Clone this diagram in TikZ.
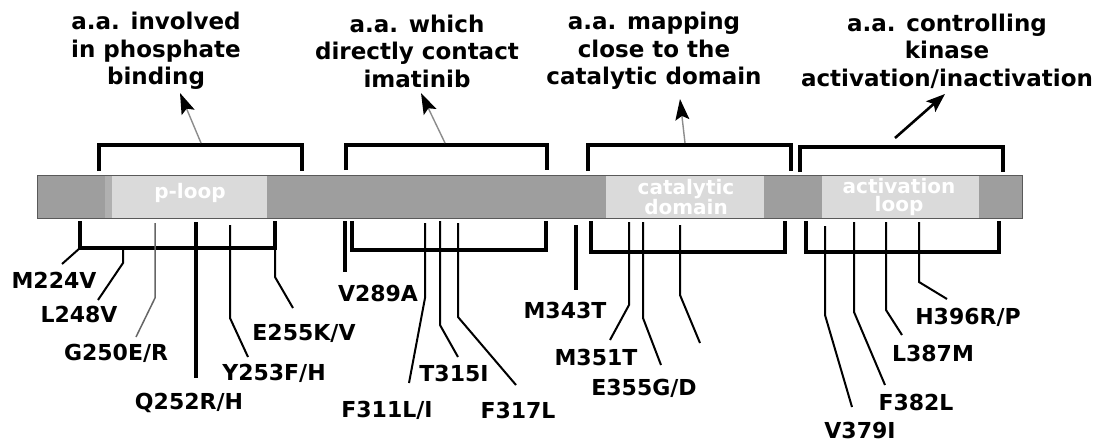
\documentclass[tikz,border=0pt]{standalone}
\usepackage{fontspec}
\setmainfont{DejaVu Sans}
\usetikzlibrary{arrows.meta}
\definecolor{bardark}{RGB}{158,158,158}
\definecolor{barlight}{RGB}{218,218,218}
\definecolor{barmid}{RGB}{176,176,176}
\definecolor{thinline}{RGB}{140,140,140}
\begin{document}
\begin{tikzpicture}[x=1pt,y=-1pt,
  toplab/.style={font=\bfseries\fontsize{23}{27.5}\selectfont,align=center,inner sep=0pt},
  mutlab/.style={font=\bfseries\fontsize{22}{26}\selectfont,inner sep=0pt},
  barlab/.style={font=\bfseries\fontsize{20}{18}\selectfont,text=white,align=center,inner sep=0pt},
  bracket/.style={line width=3.6pt,line join=miter,line cap=butt},
  lowbracket/.style={line width=3.2pt,line join=miter,line cap=butt},
  mut/.style={line width=2pt},
  thickmut/.style={line width=3.6pt},
  grayarrow/.style={draw=thinline,line width=1.4pt,-{Stealth[length=21pt,width=14pt,inset=4pt,color=black,fill=black]}},
  blackarrow/.style={draw=black,line width=2.6pt,-{Stealth[length=19pt,width=14pt,inset=4pt]}}
]
\useasboundingbox (0,0) rectangle (1104,444);
\fill[white] (0,0) rectangle (1104,444);

% bar
\fill[bardark] (37,175) rectangle (1022,218);
\fill[barmid] (105,175) rectangle (112,218);
\fill[barlight] (112,175) rectangle (267,218);
\fill[barlight] (606,175) rectangle (764,218);
\fill[barlight] (822,175) rectangle (979,218);
\draw[gray!70!black,line width=0.8pt] (37,175) rectangle (1022,218);
\node[barlab] (ploop) at (190,193) {p-loop};
\node[barlab] (catdom) at (686,197) {catalytic\\domain};
\node[barlab] (actloop) at (899,197) {activation\\loop};

% upper brackets
\draw[bracket] (99,171) -- (99,145) -- (302,145) -- (302,171);
\draw[bracket] (346,170) -- (346,145) -- (547,145) -- (547,170);
\draw[bracket] (588,171) -- (588,145) -- (791,145) -- (791,171);
\draw[bracket] (800,172) -- (800,147) -- (1003,147) -- (1003,172);

% top labels
\node[toplab] (lab1) at (156,51) {a.a. involved\\in phosphate\\binding};
\node[toplab] (lab2) at (417,51) {a.a. which\\directly contact\\imatinib};
\node[toplab] (lab3) at (654,51) {a.a. mapping\\close to the\\catalytic domain};
\node[toplab] (lab4) at (947,51) {a.a. controlling\\kinase\\activation/inactivation};

\coordinate (a1s) at (201,143); \coordinate (a1e) at (180,93);
\coordinate (a2s) at (445,143); \coordinate (a2e) at (421,93);
\coordinate (a3s) at (685,143); \coordinate (a3e) at (680,99);
\coordinate (a4s) at (895,138); \coordinate (a4e) at (945,94);
\draw[grayarrow] (a1s) -- (a1e);
\draw[grayarrow] (a2s) -- (a2e);
\draw[grayarrow] (a3s) -- (a3e);
\draw[blackarrow] (a4s) -- (a4e);

% lower brackets
\draw[lowbracket] (80,221) -- (80,248) -- (275,248) -- (275,221);
\draw[lowbracket] (352,221) -- (352,250) -- (546,250) -- (546,221);
\draw[lowbracket] (591,221) -- (591,252) -- (785,252) -- (785,221);
\draw[lowbracket] (806,221) -- (806,252) -- (999,252) -- (999,221);

% mutation lines
\draw[mut] (80,248) -- (62,264);
\draw[mut] (275,248) -- (275,277) -- (293,308);
\draw[mut] (123,248) -- (123,263) -- (98,300);
\draw[line width=1.5pt,draw=black!60] (155,223) -- (155,298) -- (136,337);
\draw[thickmut] (196,222) -- (196,378);
\draw[mut] (230,225) -- (230,318) -- (248,357);
\draw[thickmut] (345,221) -- (345,272);
\draw[mut] (425,223) -- (425,298) -- (409,383);
\draw[mut] (440,221) -- (440,325) -- (458,357);
\draw[mut] (458,223) -- (458,317) -- (516,385);
\draw[thickmut] (576,225) -- (576,290);
\draw[mut] (629,222) -- (629,305) -- (610,340);
\draw[mut] (643,222) -- (643,318) -- (661,365);
\draw[mut] (680,225) -- (680,295) -- (700,343);
\draw[mut] (825,226) -- (825,315) -- (852,407);
\draw[mut] (854,222) -- (854,312) -- (885,385);
\draw[mut] (886,222) -- (886,310) -- (902,335);
\draw[mut] (919,222) -- (919,282) -- (947,299);

% mutation labels
\node[mutlab] (m224) at (54,280) {M224V};
\node[mutlab] (l248) at (79,314) {L248V};
\node[mutlab] (g250) at (116,353) {G250E/R};
\node[mutlab] (q252) at (189,403) {Q252R/H};
\node[mutlab] (y253) at (274,373) {Y253F/H};
\node[mutlab] (e255) at (304,333) {E255K/V};
\node[mutlab] (v289) at (378,293) {V289A};
\node[mutlab] (f311) at (387,410) {F311L/I};
\node[mutlab] (t315) at (454,373) {T315I};
\node[mutlab] (f317) at (518,410) {F317L};
\node[mutlab] (m343) at (565,310) {M343T};
\node[mutlab] (m351) at (596,357) {M351T};
\node[mutlab] (e355) at (644,388) {E355G/D};
\node[mutlab] (v379) at (860,430) {V379I};
\node[mutlab] (f382) at (916,402) {F382L};
\node[mutlab] (l387) at (933,353) {L387M};
\node[mutlab] (h396) at (968,317) {H396R/P};
\end{tikzpicture}
\end{document}
